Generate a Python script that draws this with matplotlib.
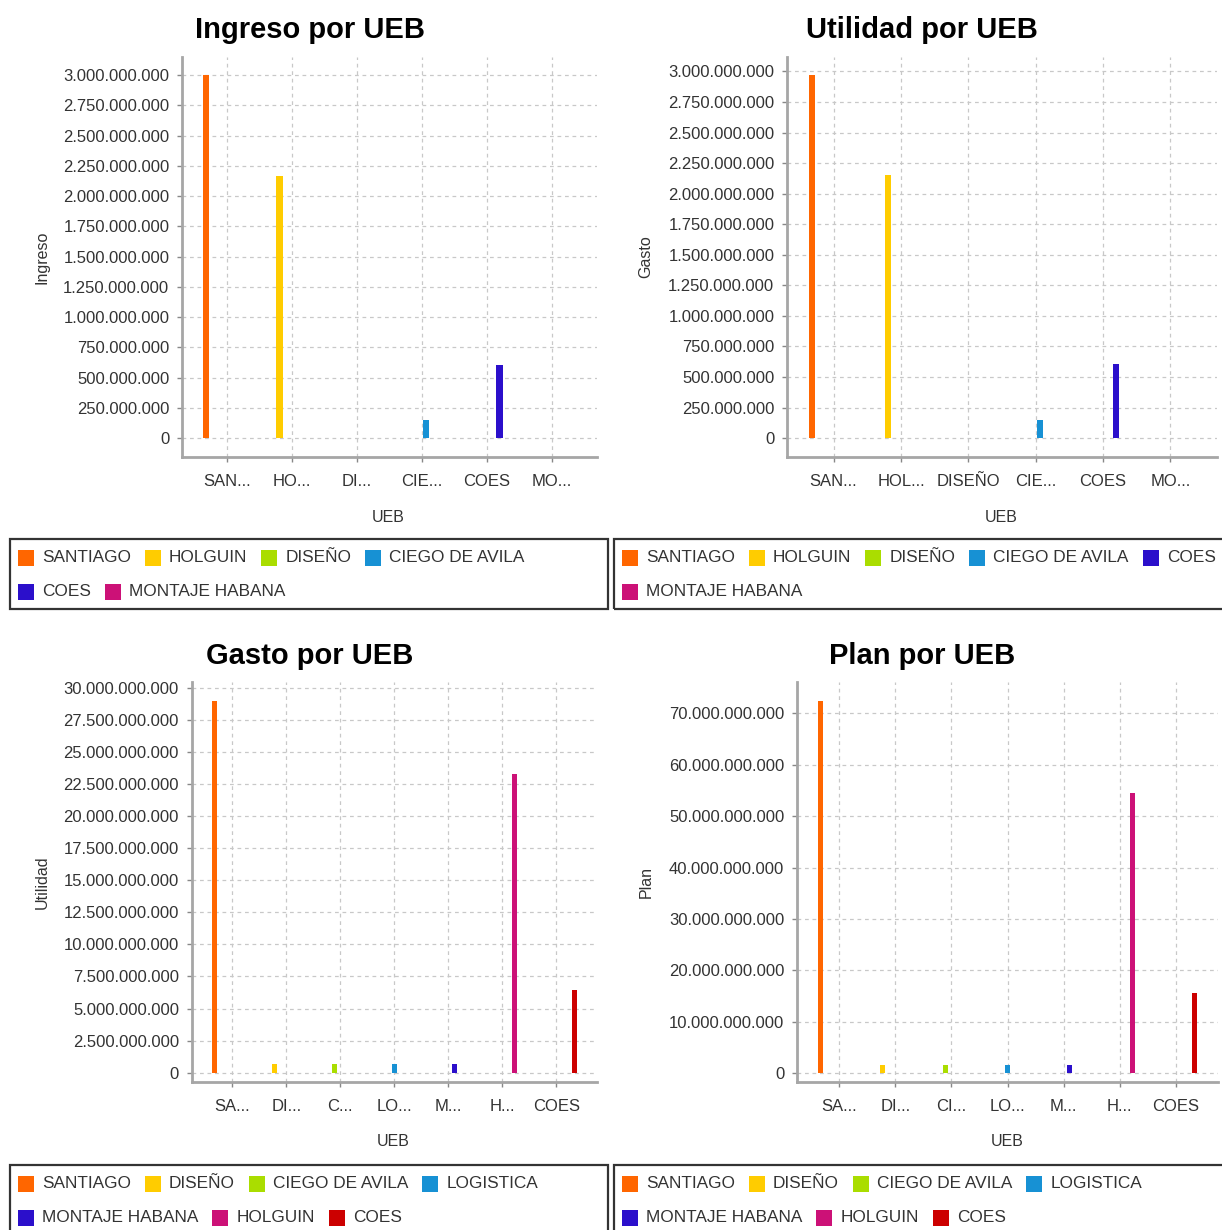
import numpy as np
import matplotlib
matplotlib.use("Agg")
import matplotlib.pyplot as plt
from matplotlib.patches import Rectangle
from matplotlib.ticker import FuncFormatter

W, H = 1222, 1230
DPI = 100
plt.rcParams['font.family'] = ['Liberation Sans', 'DejaVu Sans']

# ---------------- data ----------------
ingreso_categories = ["SAN...", "HO...", "DI...", "CIE...", "COES", "MO..."]
ingreso_series = ["SANTIAGO", "HOLGUIN", "DISEÑO", "CIEGO DE AVILA", "COES", "MONTAJE HABANA"]
ingreso_values = [3.0e9, 2.164e9, 0, 0.146e9, 0.608e9, 0]

utilidad_categories = ["SAN...", "HOL...", "DISEÑO", "CIE...", "COES", "MO..."]
utilidad_series = ["SANTIAGO", "HOLGUIN", "DISEÑO", "CIEGO DE AVILA", "COES", "MONTAJE HABANA"]
utilidad_values = [2.97e9, 2.15e9, 0, 0.146e9, 0.605e9, 0]

gasto_categories = ["SA...", "DI...", "C...", "LO...", "M...", "H...", "COES"]
gasto_series = ["SANTIAGO", "DISEÑO", "CIEGO DE AVILA", "LOGISTICA", "MONTAJE HABANA", "HOLGUIN", "COES"]
gasto_values = [29.0e9, 0.66e9, 0.66e9, 0.66e9, 0.66e9, 23.25e9, 6.42e9]

plan_categories = ["SA...", "DI...", "CI...", "LO...", "M...", "H...", "COES"]
plan_series = ["SANTIAGO", "DISEÑO", "CIEGO DE AVILA", "LOGISTICA", "MONTAJE HABANA", "HOLGUIN", "COES"]
plan_values = [72.5e9, 1.66e9, 1.66e9, 1.66e9, 1.66e9, 54.6e9, 15.5e9]

PALETTE = ["#FF6600", "#FFCC00", "#AADD00", "#1791D4", "#2B0FCB", "#CC1177", "#CC0000"]

TEXT = "#333333"
GRID = "#c8c8c8"
SPINE = "#a6a6a6"


def fx(x):
    return x / W


def fy(y):
    return 1 - y / H


def thousands(v, _pos):
    return f"{int(round(v)):,}".replace(",", ".")


def category_layout(n_cat, n_ser, lower=0.05, upper=0.05, cat_margin=0.2, item_margin=0.2):
    """Category/bar slots in axis fraction, grouped-bar style."""
    cat_w = (1 - lower - upper - cat_margin) / n_cat
    cat_gap = cat_margin / (n_cat - 1)
    starts = lower + np.arange(n_cat) * (cat_w + cat_gap)
    centers = starts + cat_w / 2
    bar_w = cat_w * (1 - item_margin) / n_ser
    item_gap = cat_w * item_margin / (n_ser - 1)
    return starts, centers, bar_w, item_gap


def draw_panel(fig, rect, title, title_xy, ylabel, ylabel_xy, xlabel_xy,
               categories, series, values, step, top_tick, low_frac):
    l, t, r, b = rect
    ax = fig.add_axes([fx(l), fy(b), (r - l) / W, (b - t) / H])
    n, m = len(categories), len(series)
    starts, centers, bar_w, item_gap = category_layout(n, m)
    # each series holds its value in its own category slot
    for j, v in enumerate(values):
        x0 = starts[j] + j * (bar_w + item_gap)
        ax.bar(x0, v, width=bar_w, align='edge', color=PALETTE[j], zorder=3, linewidth=0)

    vmax = max(values)
    ax.set_xlim(0, 1)
    ax.set_ylim(-low_frac * vmax, 1.05 * vmax)
    ax.set_xticks(centers)
    ax.set_xticklabels(categories)
    ax.set_yticks(np.arange(0, top_tick + step / 2, step))
    ax.yaxis.set_major_formatter(FuncFormatter(thousands))

    ax.set_axisbelow(True)
    ax.grid(True, color=GRID, linestyle=(0, (3, 3)), linewidth=0.9, zorder=0)
    for s in ("top", "right"):
        ax.spines[s].set_visible(False)
    for s in ("left", "bottom"):
        ax.spines[s].set_color(SPINE)
        ax.spines[s].set_linewidth(2)
    ax.tick_params(axis='both', direction='out', length=3.6, width=1.0,
                   color="#888888", labelsize=12, labelcolor=TEXT)
    ax.tick_params(axis='x', pad=8.5)
    ax.tick_params(axis='y', pad=5.5)

    fig.text(fx(title_xy[0]), fy(title_xy[1]), title, ha='center', va='baseline',
             fontsize=21, fontweight='bold', color='black')
    fig.text(fx(ylabel_xy[0]), fy(ylabel_xy[1]), ylabel, ha='center', va='center',
             rotation=90, fontsize=11.5, color=TEXT)
    fig.text(fx(xlabel_xy[0]), fy(xlabel_xy[1]), "UEB", ha='center', va='center',
             fontsize=11.5, color=TEXT)
    return ax


def draw_legend(fig, renderer, names, box, row_ys):
    l, t, r, b = box
    fig.add_artist(Rectangle((fx(l), fy(b)), (r - l) / W, (b - t) / H,
                             transform=fig.transFigure, fill=False,
                             edgecolor="#333333", linewidth=1.6))
    x = l + 8
    row = 0
    sq = 16
    for j, name in enumerate(names):
        txt = fig.text(0, 0, name, fontsize=12.4, color=TEXT, ha='left', va='center')
        tw = txt.get_window_extent(renderer).width
        item_w = sq + 8 + tw
        if x + item_w > r - 10 and x > l + 8:
            row += 1
            x = l + 8
        y = row_ys[row]
        fig.add_artist(Rectangle((fx(x), fy(y + sq / 2)), sq / W, sq / H,
                                 transform=fig.transFigure, facecolor=PALETTE[j],
                                 edgecolor='none'))
        txt.set_position((fx(x + sq + 8), fy(y)))
        x += item_w + 14


fig = plt.figure(figsize=(W / DPI, H / DPI), dpi=DPI)
fig.patch.set_facecolor("white")
renderer = fig.canvas.get_renderer()

draw_panel(fig, (182, 57, 597, 457), "Ingreso por UEB", (310, 38), "Ingreso", (42, 257), (388, 517),
           ingreso_categories, ingreso_series, ingreso_values, 250e6, 3.0e9, 0.052)
draw_panel(fig, (787, 57, 1217, 457), "Utilidad por UEB", (922, 38), "Gasto", (646, 257), (1001, 517),
           utilidad_categories, utilidad_series, utilidad_values, 250e6, 3.0e9, 0.052)
draw_panel(fig, (191.6, 682, 597, 1082), "Gasto por UEB", (310, 664), "Utilidad", (42, 882), (393, 1142),
           gasto_categories, gasto_series, gasto_values, 2.5e9, 30e9, 0.025)
draw_panel(fig, (797, 682, 1218, 1082), "Plan por UEB", (922, 664), "Plan", (646, 882), (1007, 1142),
           plan_categories, plan_series, plan_values, 10e9, 70e9, 0.024)

draw_legend(fig, renderer, ingreso_series, (10, 539, 608, 609), (558, 592))
draw_legend(fig, renderer, utilidad_series, (614, 539, 1240, 609), (558, 592))
draw_legend(fig, renderer, gasto_series, (10, 1165, 608, 1250), (1184, 1218))
draw_legend(fig, renderer, plan_series, (614, 1165, 1240, 1250), (1184, 1218))

fig.savefig("out.png", dpi=DPI)
